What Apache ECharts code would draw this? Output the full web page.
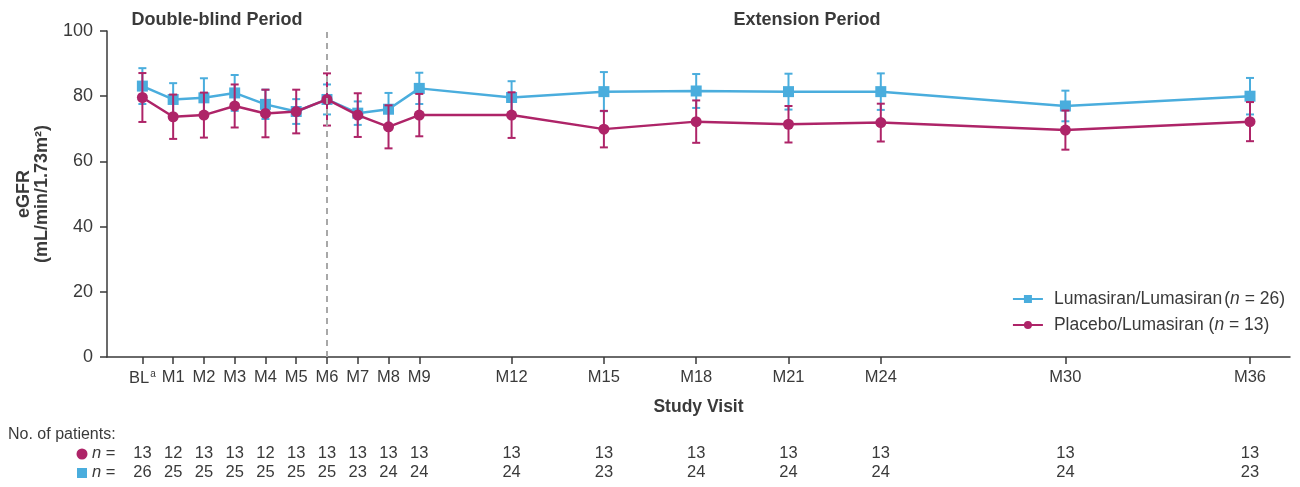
<!DOCTYPE html>
<html>
<head>
<meta charset="utf-8">
<script src="https://cdn.jsdelivr.net/npm/echarts@6/dist/echarts.min.js"></script>
<style>
  html, body { margin: 0; padding: 0; background: #fff; }
  #chart { width: 1300px; height: 487px; }
</style>
</head>
<body>
<div id="chart"></div>
<script>
// visit month (BL = 0) and tick labels
var months = [0, 1, 2, 3, 4, 5, 6, 7, 8, 9, 12, 15, 18, 21, 24, 30, 36];
var visitLabels = ['BL{sup|a}', 'M1', 'M2', 'M3', 'M4', 'M5', 'M6', 'M7', 'M8', 'M9', 'M12', 'M15', 'M18', 'M21', 'M24', 'M30', 'M36'];

// eGFR mean and SD
var lumaMean = [83.1, 79.0, 79.5, 81.0, 77.5, 75.3, 79.0, 74.8, 76.0, 82.4, 79.6, 81.4, 81.6, 81.4, 81.4, 77.0, 80.0];
var lumaSD = [5.5, 5.0, 6.0, 5.5, 4.5, 3.8, 4.6, 3.6, 5.0, 4.8, 5.0, 6.0, 5.2, 5.5, 5.6, 4.7, 5.6];
var placMean = [79.6, 73.7, 74.2, 77.0, 74.7, 75.3, 79.0, 74.2, 70.6, 74.2, 74.2, 69.9, 72.2, 71.4, 71.9, 69.6, 72.2];
var placSD = [7.5, 6.8, 6.9, 6.6, 7.3, 6.7, 8.0, 6.7, 6.6, 6.5, 7.0, 5.6, 6.5, 5.6, 5.8, 6.0, 6.0];

// number of patients per visit
var placN = [13, 12, 13, 13, 12, 13, 13, 13, 13, 13, 13, 13, 13, 13, 13, 13, 13];
var lumaN = [26, 25, 25, 25, 25, 25, 25, 23, 24, 24, 24, 23, 24, 24, 24, 24, 23];

var blue = '#4aaddd', magenta = '#ae2468';
var textCol = '#3a3a3a';
var font = 'Liberation Sans, Arial, sans-serif';

function pairs(means) {
  return months.map(function (m, i) { return [m, means[i]]; });
}
function bars(means, sds) {
  return months.map(function (m, i) { return [m, means[i] - sds[i], means[i] + sds[i]]; });
}
function errorBar(color) {
  return function (params, api) {
    var lo = api.coord([api.value(0), api.value(1)]);
    var hi = api.coord([api.value(0), api.value(2)]);
    var w = 4;
    var st = { stroke: color, lineWidth: 2 };
    return {
      type: 'group',
      children: [
        { type: 'line', shape: { x1: lo[0], y1: lo[1], x2: hi[0], y2: hi[1] }, style: st },
        { type: 'line', shape: { x1: lo[0] - w, y1: lo[1], x2: lo[0] + w, y2: lo[1] }, style: st },
        { type: 'line', shape: { x1: hi[0] - w, y1: hi[1], x2: hi[0] + w, y2: hi[1] }, style: st }
      ]
    };
  };
}

var labelByMonth = {};
months.forEach(function (m, i) { labelByMonth[m] = visitLabels[i]; });

var chart = echarts.init(document.getElementById('chart'));
var option = {
  animation: false,
  textStyle: { fontFamily: font },
  grid: { left: 107, right: 10, top: 31, bottom: 130, containLabel: false, outerBoundsMode: 'none' },
  title: [
    { text: 'Double-blind Period', left: 212, top: 6, textAlign: 'center',
      textStyle: { fontSize: 18, fontWeight: 'bold', color: textCol, fontFamily: font } },
    { text: 'Extension Period', left: 802, top: 6, textAlign: 'center',
      textStyle: { fontSize: 18, fontWeight: 'bold', color: textCol, fontFamily: font } }
  ],
  legend: {
    orient: 'vertical', right: 10, top: 285, itemGap: 8,
    itemWidth: 30, itemHeight: 10,
    data: ['Lumasiran/Lumasiran', 'Placebo/Lumasiran'],
    formatter: function (name) {
      return name === 'Lumasiran/Lumasiran' ? name + '{sp|}({it|n} = 26)' : name + ' ({it|n} = 13)';
    },
    textStyle: {
      fontSize: 17.5, color: textCol, fontFamily: font, padding: [0, 0, 0, 6],
      rich: { it: { fontStyle: 'italic', fontSize: 17.5, color: textCol, fontFamily: font }, sp: { width: 2 } }
    }
  },
  xAxis: {
    type: 'value', min: -1.15, max: 37.3,
    name: 'Study Visit', nameLocation: 'middle', nameGap: 41,
    nameTextStyle: { fontSize: 17.5, fontWeight: 'bold', color: textCol, fontFamily: font },
    splitLine: { show: false },
    axisLine: { onZero: false, lineStyle: { color: textCol, width: 1.5 } },
    axisTick: { customValues: months, length: 7, lineStyle: { color: textCol, width: 1.5 } },
    axisLabel: {
      customValues: months, margin: 12, fontSize: 16.5, color: textCol, fontFamily: font,
      formatter: function (v) { return labelByMonth[v] || ''; },
      rich: { sup: { fontSize: 10, verticalAlign: 'top', padding: [0, 0, 8, 1], color: textCol } }
    }
  },
  yAxis: {
    type: 'value', min: 0, max: 100, interval: 20,
    name: 'eGFR\n(mL/min/1.73m²)', nameLocation: 'middle', nameGap: 56, nameRotate: 90,
    nameTextStyle: { fontSize: 18, fontWeight: 'bold', color: textCol, fontFamily: font, lineHeight: 18 },
    splitLine: { show: false },
    axisLine: { show: true, onZero: false, lineStyle: { color: textCol, width: 1.5 } },
    axisTick: { show: true, length: 7, lineStyle: { color: textCol, width: 1.5 } },
    axisLabel: { fontSize: 18, color: textCol, margin: 14, fontFamily: font }
  },
  series: [
    {
      name: 'Lumasiran/Lumasiran', type: 'line', data: pairs(lumaMean),
      symbol: 'rect', symbolSize: 11, color: blue,
      lineStyle: { width: 2.5, color: blue }, itemStyle: { color: blue }, z: 3,
      markLine: {
        silent: true, symbol: 'none', label: { show: false },
        lineStyle: { color: '#a8a8a8', type: [6, 5], width: 2 },
        data: [{ xAxis: 6 }]
      }
    },
    {
      name: 'lumaErr', type: 'custom', data: bars(lumaMean, lumaSD),
      renderItem: errorBar(blue), z: 3, encode: { x: 0, y: [1, 2] }
    },
    {
      name: 'Placebo/Lumasiran', type: 'line', data: pairs(placMean),
      symbol: 'circle', symbolSize: 11, color: magenta,
      lineStyle: { width: 2.5, color: magenta }, itemStyle: { color: magenta }, z: 4
    },
    {
      name: 'placErr', type: 'custom', data: bars(placMean, placSD),
      renderItem: errorBar(magenta), z: 4, encode: { x: 0, y: [1, 2] }
    }
  ]
};
chart.setOption(option);

// patients-at-risk table under the axis, positioned through the x scale
var nStyle = { text: '{i|n} =', fontSize: 16.5, fill: textCol, fontFamily: font,
  rich: { i: { fontStyle: 'italic', fontSize: 16.5, fill: textCol, fontFamily: font } } };
var g = [
  { type: 'text', left: 8, top: 427, style: { text: 'No. of patients:', fontSize: 16, fill: textCol, fontFamily: font } },
  { type: 'circle', shape: { cx: 82, cy: 454, r: 5.5 }, style: { fill: magenta } },
  { type: 'rect', shape: { x: 77, y: 468, width: 10, height: 10 }, style: { fill: blue } },
  { type: 'text', x: 92, y: 445, style: nStyle },
  { type: 'text', x: 92, y: 464, style: echarts.util.clone(nStyle) }
];
months.forEach(function (m, i) {
  var px = chart.convertToPixel({ xAxisIndex: 0 }, m);
  g.push({ type: 'text', x: px, y: 445, style: { text: String(placN[i]), fontSize: 16.5, fill: textCol, align: 'center', fontFamily: font } });
  g.push({ type: 'text', x: px, y: 464, style: { text: String(lumaN[i]), fontSize: 16.5, fill: textCol, align: 'center', fontFamily: font } });
});
chart.setOption({ graphic: g });
</script>
</body>
</html>
